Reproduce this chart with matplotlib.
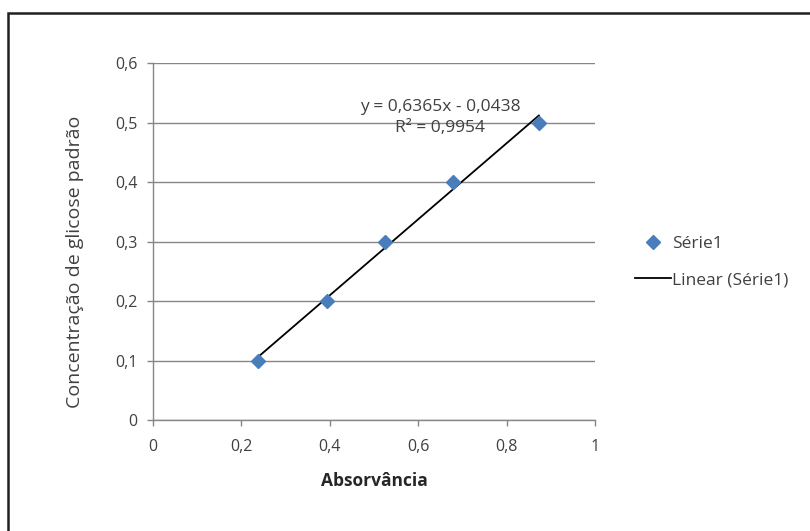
import matplotlib.pyplot as plt
import numpy as np
from matplotlib.patches import Rectangle

# data
absorbancia = [0.237, 0.393, 0.525, 0.679, 0.873]
concentracao = [0.1, 0.2, 0.3, 0.4, 0.5]
xticks = [0, 0.2, 0.4, 0.6, 0.8, 1]
yticks = [0, 0.1, 0.2, 0.3, 0.4, 0.5, 0.6]
eq_text = 'y = 0,6365x - 0,0438\nR² = 0,9954'

plt.rcParams['font.family'] = ['Open Sans', 'DejaVu Sans']
grid_col = '#868686'
txt_col = '#404040'
fs = 11.5

fig = plt.figure(figsize=(8.1, 5.31), dpi=100)
ax = fig.add_axes([0.1889, 0.2090, 0.5457, 0.6723])

# outer frame, cut off at right and bottom like the screenshot
fig.patches.append(Rectangle((7.5 / 810, -0.1), 1.2, 1 - 12.5 / 531 + 0.1,
                             transform=fig.transFigure, fill=False,
                             edgecolor='#202020', linewidth=1.8))

# linear trendline across the data range
coef = np.polyfit(absorbancia, concentracao, 1)
xs = np.array([min(absorbancia), max(absorbancia)])
ax.plot(xs, np.polyval(coef, xs), color='black', lw=1.3, label='Linear (Série1)', zorder=3)
ax.plot(absorbancia, concentracao, 'D', color='#4A7EBB', ms=7, mec='#4A7EBB',
        label='Série1', zorder=4, linestyle='none')

ax.set_xlim(0, 1)
ax.set_ylim(0, 0.6)
ax.set_xticks(xticks)
ax.set_yticks(yticks)
ax.set_xticklabels([('%g' % v).replace('.', ',') for v in xticks])
ax.set_yticklabels([('%g' % v).replace('.', ',') for v in yticks])
ax.tick_params(axis='both', colors=grid_col, labelcolor=txt_col, labelsize=fs,
               length=4, width=1, direction='out')
ax.tick_params(axis='y', pad=7)
ax.tick_params(axis='x', pad=10)
ax.yaxis.grid(True, color=grid_col, lw=1)
ax.set_axisbelow(True)
for s in ['top', 'right']:
    ax.spines[s].set_visible(False)
for s in ['left', 'bottom']:
    ax.spines[s].set_color(grid_col)
    ax.spines[s].set_linewidth(1)

ax.set_xlabel('Absorvância', fontsize=12.5, fontweight='bold', color='#262626', labelpad=12)
ax.set_ylabel('Concentração de glicose padrão', fontsize=14, color=txt_col)
ax.yaxis.set_label_coords(-0.155, 0.443)

ax.text(0.649, 0.508, eq_text, ha='center', va='center', fontsize=12.5,
        color=txt_col, linespacing=1.4)

h, l = ax.get_legend_handles_labels()
leg = ax.legend([h[1], h[0]], [l[1], l[0]], loc='center left',
                bbox_to_anchor=(619 / 810, 1 - 262 / 531), bbox_transform=fig.transFigure,
                frameon=False, fontsize=12.5, handlelength=2.1, handletextpad=0.05,
                labelspacing=1.15)
for t in leg.get_texts():
    t.set_color(txt_col)

fig.savefig('out.png', dpi=100)
